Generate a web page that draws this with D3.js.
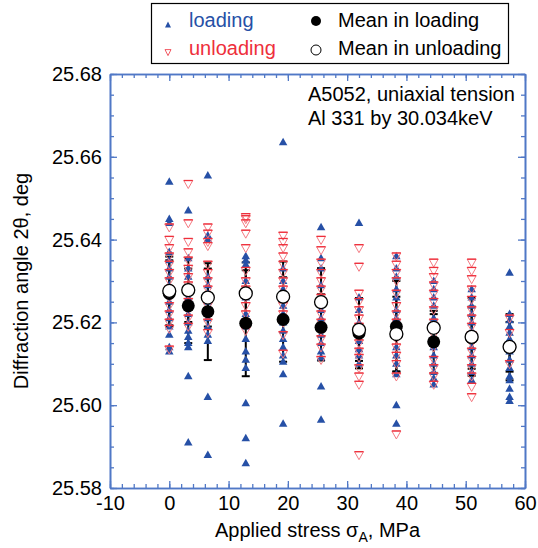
<!DOCTYPE html>
<html>
<head>
<meta charset="utf-8">
<script src="https://cdn.jsdelivr.net/npm/d3@7"></script>
<style>
  body { margin: 0; background: #fff; }
  svg { font-family: "Liberation Sans", Arial, Helvetica, sans-serif; }
</style>
</head>
<body>
<div id="chart"></div>
<script>
// applied stress of each measurement column (MPa)
const stress = [0, 3.2, 6.5, 12.9, 19.2, 25.6, 32.0, 38.3, 44.6, 51.0, 57.4];

// diffraction angle 2theta (deg), loading points per column
const loadingPts = [
  [25.654, 25.645, 25.644, 25.637, 25.635, 25.633, 25.631, 25.629, 25.627, 25.625, 25.623, 25.621, 25.619, 25.617, 25.614, 25.613],
  [25.647, 25.6355, 25.633, 25.631, 25.628, 25.626, 25.624, 25.622, 25.620, 25.618, 25.6165, 25.615, 25.614, 25.607, 25.591],
  [25.6555, 25.641, 25.640, 25.631, 25.629, 25.627, 25.625, 25.623, 25.621, 25.619, 25.617, 25.6155, 25.602, 25.588],
  [25.636, 25.635, 25.634, 25.630, 25.626, 25.622, 25.619, 25.616, 25.613, 25.611, 25.609, 25.6005, 25.592, 25.586],
  [25.6635, 25.633, 25.630, 25.628, 25.626, 25.624, 25.622, 25.620, 25.618, 25.616, 25.614, 25.612, 25.6105, 25.6075, 25.5955],
  [25.643, 25.6355, 25.633, 25.629, 25.626, 25.623, 25.621, 25.619, 25.617, 25.615, 25.613, 25.6115, 25.6045, 25.5965],
  [25.644, 25.626, 25.623, 25.620, 25.6175, 25.6155, 25.6135, 25.612, 25.610],
  [25.636, 25.633, 25.631, 25.628, 25.626, 25.623, 25.621, 25.619, 25.617, 25.614, 25.612, 25.610, 25.6075, 25.600, 25.5955],
  [25.630, 25.628, 25.626, 25.624, 25.621, 25.618, 25.616, 25.614, 25.612, 25.610, 25.608, 25.6065, 25.605],
  [25.628, 25.626, 25.624, 25.622, 25.620, 25.618, 25.616, 25.614, 25.612, 25.610, 25.608, 25.606],
  [25.632, 25.622, 25.6205, 25.619, 25.6175, 25.616, 25.6145, 25.613, 25.611, 25.609, 25.607, 25.606, 25.604, 25.602, 25.601]
];

// unloading points per column
const unloadingPts = [
  [25.643, 25.640, 25.638, 25.636, 25.634, 25.632, 25.630, 25.628, 25.626, 25.624, 25.622, 25.620, 25.6185, 25.6135],
  [25.6535, 25.644, 25.6395, 25.637, 25.635, 25.633, 25.631, 25.629, 25.627, 25.625, 25.623, 25.621, 25.619],
  [25.643, 25.6415, 25.6395, 25.6385, 25.634, 25.632, 25.630, 25.628, 25.626, 25.624, 25.622, 25.620, 25.6175],
  [25.6455, 25.645, 25.644, 25.6415, 25.638, 25.6325, 25.630, 25.628, 25.626, 25.624, 25.622, 25.620, 25.618],
  [25.641, 25.6395, 25.638, 25.636, 25.634, 25.632, 25.630, 25.628, 25.626, 25.624, 25.622, 25.620, 25.617, 25.6125],
  [25.640, 25.6375, 25.6345, 25.632, 25.630, 25.628, 25.626, 25.624, 25.622, 25.620, 25.618, 25.616, 25.614, 25.611],
  [25.638, 25.6335, 25.627, 25.625, 25.623, 25.621, 25.619, 25.617, 25.615, 25.613, 25.6115, 25.609, 25.607, 25.605, 25.588],
  [25.636, 25.634, 25.632, 25.630, 25.627, 25.624, 25.622, 25.620, 25.618, 25.616, 25.614, 25.612, 25.610, 25.607, 25.593],
  [25.6345, 25.6325, 25.631, 25.629, 25.627, 25.625, 25.623, 25.620, 25.617, 25.614, 25.611, 25.609, 25.607, 25.605],
  [25.6345, 25.6325, 25.6305, 25.628, 25.6255, 25.623, 25.621, 25.619, 25.617, 25.615, 25.613, 25.611, 25.609, 25.607, 25.6045, 25.602],
  [25.621, 25.6175, 25.614, 25.610]
];

// means and standard deviations
const loadMean   = [25.6270, 25.6240, 25.6226, 25.6198, 25.6207, 25.6188, 25.6174, 25.6190, 25.6153, 25.6163, 25.6140];
const loadSd     = [0.0080, 0.0090, 0.0117, 0.0128, 0.0102, 0.0080, 0.0085, 0.0110, 0.0075, 0.0075, 0.0080];
const unloadMean = [25.6276, 25.6278, 25.6260, 25.6270, 25.6262, 25.6249, 25.6182, 25.6172, 25.6187, 25.6165, 25.6141];
const unloadSd   = [0.0083, 0.0077, 0.0070, 0.0075, 0.0085, 0.0082, 0.0075, 0.0090, 0.0033, 0.0094, 0.0060];

const xTicks = [-10, 0, 10, 20, 30, 40, 50, 60];
const yTicks = [25.58, 25.60, 25.62, 25.64, 25.66, 25.68];

const BLUE = "#2650a6";
const RED = "#ee2f3b";
const PINK = "#f47a82";
const AXIS = "#5078c6";
const FS = "20px";

const W = 538, H = 548;
const margin = {top: 74, right: 13, bottom: 60, left: 110};

const svg = d3.select("#chart").append("svg")
    .attr("width", W)
    .attr("height", H);

const x = d3.scaleLinear().domain([-10, 60]).range([margin.left, W - margin.right]);
const y = d3.scaleLinear().domain([25.58, 25.68]).range([H - margin.bottom, margin.top]);

// triangle paths
const upTri = (w, h) => `M0,${-h * 0.6}L${w / 2},${h * 0.4}L${-w / 2},${h * 0.4}Z`;
const downTri = (w, h) => `M0,${h * 0.6}L${w / 2},${-h * 0.4}L${-w / 2},${-h * 0.4}Z`;

// ---- axes ----
function drawAxis(gen, transform) {
    const g = svg.append("g").attr("transform", transform);
    g.call(gen);
    g.selectAll("path.domain").attr("stroke", AXIS).attr("stroke-width", 1.6);
    g.selectAll(".tick line").attr("stroke", AXIS).attr("stroke-width", 1.3);
    g.selectAll(".tick text").attr("fill", "#000").style("font-size", FS);
    return g;
}
const xMinor = d3.range(-10, 61, 2);
const yMinor = d3.range(0, 21).map(i => 25.58 + i * 0.005);

drawAxis(d3.axisBottom(x).tickValues(xMinor).tickSize(-4).tickSizeOuter(0).tickFormat(""), `translate(0,${y(25.58)})`);
drawAxis(d3.axisBottom(x).tickValues(xTicks).tickSize(-7).tickSizeOuter(0).tickPadding(8).tickFormat(d => String(d)), `translate(0,${y(25.58)})`);
drawAxis(d3.axisTop(x).tickValues(xMinor).tickSize(-4).tickSizeOuter(0).tickFormat(""), `translate(0,${y(25.68)})`);
drawAxis(d3.axisTop(x).tickValues(xTicks).tickSize(-7).tickSizeOuter(0).tickFormat(""), `translate(0,${y(25.68)})`);
drawAxis(d3.axisLeft(y).tickValues(yMinor).tickSize(-4).tickSizeOuter(0).tickFormat(""), `translate(${x(-10)},0)`);
drawAxis(d3.axisLeft(y).tickValues(yTicks).tickSize(-7).tickSizeOuter(0).tickPadding(8).tickFormat(d3.format(".2f")), `translate(${x(-10)},0)`);
drawAxis(d3.axisRight(y).tickValues(yMinor).tickSize(-4).tickSizeOuter(0).tickFormat(""), `translate(${x(60)},0)`);
drawAxis(d3.axisRight(y).tickValues(yTicks).tickSize(-7).tickSizeOuter(0).tickFormat(""), `translate(${x(60)},0)`);

// ---- error bars (under the points) ----
const bars = stress.map((s, i) => ({s: s, m: loadMean[i], sd: loadSd[i]}))
    .concat(stress.map((s, i) => ({s: s, m: unloadMean[i], sd: unloadSd[i]})));

const eb = svg.append("g").attr("stroke", "#000").attr("stroke-width", 2);
eb.selectAll("line.v").data(bars).join("line")
    .attr("class", "v")
    .attr("x1", d => x(d.s)).attr("x2", d => x(d.s))
    .attr("y1", d => y(d.m - d.sd)).attr("y2", d => y(d.m + d.sd));
eb.selectAll("line.top").data(bars).join("line")
    .attr("class", "top")
    .attr("x1", d => x(d.s) - 4).attr("x2", d => x(d.s) + 4)
    .attr("y1", d => y(d.m + d.sd)).attr("y2", d => y(d.m + d.sd));
eb.selectAll("line.bot").data(bars).join("line")
    .attr("class", "bot")
    .attr("x1", d => x(d.s) - 4).attr("x2", d => x(d.s) + 4)
    .attr("y1", d => y(d.m - d.sd)).attr("y2", d => y(d.m - d.sd));

// ---- scatter points ----
const loadFlat = [], unloadFlat = [];
stress.forEach((s, i) => {
    loadingPts[i].forEach(v => loadFlat.push({s: s, v: v}));
    unloadingPts[i].forEach(v => unloadFlat.push({s: s, v: v}));
});

svg.append("g").selectAll("path")
    .data(loadFlat)
    .join("path")
        .attr("d", upTri(8.5, 7.5))
        .attr("transform", d => `translate(${x(d.s)},${y(d.v)})`)
        .attr("fill", BLUE);

// open down triangles: pale outline with a stronger red top edge
const un = svg.append("g").selectAll("g")
    .data(unloadFlat)
    .join("g")
        .attr("transform", d => `translate(${x(d.s)},${y(d.v)})`);
un.append("path")
    .attr("d", downTri(9, 8))
    .attr("fill", "none")
    .attr("stroke", PINK)
    .attr("stroke-width", 1);
un.append("line")
    .attr("x1", -4.5).attr("x2", 4.5)
    .attr("y1", -3.2).attr("y2", -3.2)
    .attr("stroke", RED)
    .attr("stroke-width", 1.3);

// ---- means ----
svg.append("g").selectAll("circle")
    .data(stress)
    .join("circle")
        .attr("cx", d => x(d))
        .attr("cy", (d, i) => y(loadMean[i]))
        .attr("r", 6.5)
        .attr("fill", "#000");

svg.append("g").selectAll("circle")
    .data(stress)
    .join("circle")
        .attr("cx", d => x(d))
        .attr("cy", (d, i) => y(unloadMean[i]))
        .attr("r", 6.5)
        .attr("fill", "#fff")
        .attr("stroke", "#000")
        .attr("stroke-width", 1.3);

// ---- axis titles ----
const xt = svg.append("text")
    .attr("x", (x(-10) + x(60)) / 2)
    .attr("y", 537)
    .attr("text-anchor", "middle")
    .style("font-size", FS);
xt.append("tspan").text("Applied stress ");
xt.append("tspan").text("σ");
xt.append("tspan").text("A").attr("dy", 5).style("font-size", "14px");
xt.append("tspan").text(", MPa").attr("dy", -5);

svg.append("text")
    .attr("transform", `translate(28,${(y(25.58) + y(25.68)) / 2}) rotate(-90)`)
    .attr("text-anchor", "middle")
    .style("font-size", FS)
    .text("Diffraction angle 2θ, deg");

// ---- annotation ----
svg.append("text").attr("x", 308).attr("y", 101).style("font-size", FS).text("A5052, uniaxial tension");
svg.append("text").attr("x", 308).attr("y", 125).style("font-size", FS).text("Al 331 by 30.034keV");

// ---- legend ----
const legend = svg.append("g");
legend.append("rect")
    .attr("x", 151.5).attr("y", 3.5)
    .attr("width", 357).attr("height", 60)
    .attr("fill", "#fff")
    .attr("stroke", "#000")
    .attr("stroke-width", 1.2);

legend.append("path").attr("d", upTri(6, 6)).attr("transform", "translate(168,25)").attr("fill", BLUE);
legend.append("text").attr("x", 189).attr("y", 27).style("font-size", FS).attr("fill", BLUE).text("loading");
legend.append("path").attr("d", downTri(6, 6)).attr("transform", "translate(168,52)")
    .attr("fill", "none").attr("stroke", RED).attr("stroke-width", 0.8);
legend.append("text").attr("x", 189).attr("y", 55).style("font-size", FS).attr("fill", RED).text("unloading");

legend.append("circle").attr("cx", 316).attr("cy", 21).attr("r", 5).attr("fill", "#000");
legend.append("text").attr("x", 338).attr("y", 27).style("font-size", FS).text("Mean in loading");
legend.append("circle").attr("cx", 316).attr("cy", 50).attr("r", 5)
    .attr("fill", "#fff").attr("stroke", "#000").attr("stroke-width", 1);
legend.append("text").attr("x", 338).attr("y", 55).style("font-size", FS).text("Mean in unloading");
</script>
</body>
</html>
